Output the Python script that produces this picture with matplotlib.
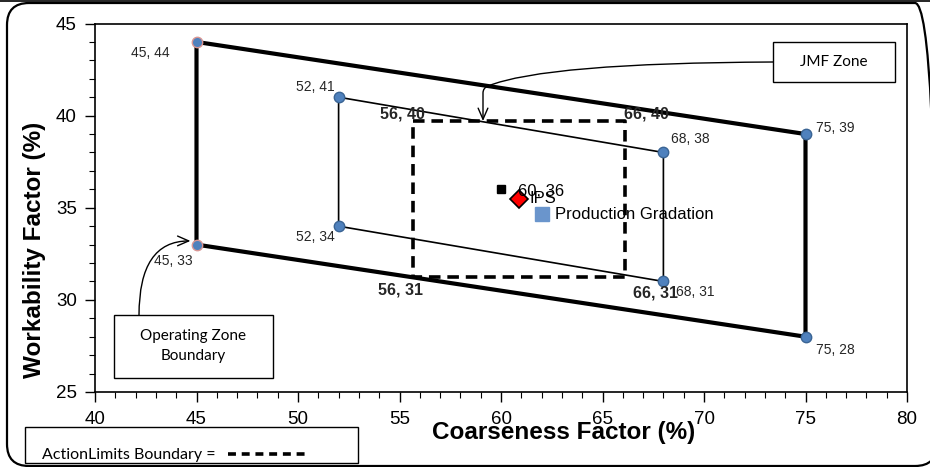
import matplotlib
matplotlib.use("Agg")
import matplotlib.pyplot as plt
from matplotlib.patches import FancyBboxPatch, Rectangle, FancyArrowPatch
from matplotlib.lines import Line2D
from matplotlib.path import Path
from matplotlib.transforms import IdentityTransform

# operating zone boundary (thick)
op_x = [45, 75, 75, 45, 45]
op_y = [44, 39, 28, 33, 44]
op_labels = ["45, 44", "75, 39", "75, 28", "45, 33"]
# inner zone (thin)
in_x = [52, 68, 68, 52, 52]
in_y = [41, 38, 31, 34, 41]
in_labels = ["52, 41", "68, 38", "68, 31", "52, 34"]
# action limits (dashed), as drawn
act_x = [55.65, 66.1, 66.1, 55.65, 55.65]
act_y = [39.7, 39.7, 31.26, 31.26, 39.7]
act_labels = ["56, 40", "66, 40", "66, 31", "56, 31"]
# single points
jmf_pt = (60, 36)
ips_pt = (60.9, 35.45)
prod_pt = (62.0, 34.65)

blue = "#4f81bd"
blue_edge = "#3a6494"
lab_col = "#262626"

fig = plt.figure(figsize=(9.3, 4.67), dpi=100)
ax = fig.add_axes([95/930, 75/467, 812/930, 368.5/467])

ax.plot(op_x, op_y, color="black", lw=3.0, zorder=2)
ax.plot(in_x, in_y, color="black", lw=1.2, zorder=2)
ax.plot(act_x, act_y, color="black", lw=2.6, dashes=(3.2, 1.9), zorder=2)

ax.plot(op_x[1:3], op_y[1:3], "o", ms=7.5, mfc=blue, mec=blue_edge, mew=1, ls="none", zorder=4)
ax.plot([op_x[0], op_x[3]], [op_y[0], op_y[3]], "o", ms=7.5, mfc=blue, mec="#d99694", mew=1, ls="none", zorder=4)
ax.plot(in_x[:4], in_y[:4], "o", ms=7.5, mfc=blue, mec=blue_edge, mew=1, ls="none", zorder=4)

ax.plot(*jmf_pt, "s", ms=5.5, color="black", zorder=5)
ax.plot(*ips_pt, "D", ms=9, mfc="red", mec="black", mew=1.2, zorder=5)
ax.plot(*prod_pt, "s", ms=10, mfc="#6a95cc", mec="#6a95cc", zorder=5)

def lab(txt, xy, dx, dy, ha="left", size=9.5, weight="normal", color=lab_col):
    # dx, dy in pixels
    ax.annotate(txt, xy=xy, xytext=(dx * 0.72, dy * 0.72), textcoords="offset points",
                ha=ha, va="center", fontsize=size, fontweight=weight, color=color,
                family="Liberation Sans", zorder=6)

# outer labels
lab(op_labels[0], (op_x[0], op_y[0]), -27, -11, ha="right", size=10)
lab(op_labels[1], (op_x[1], op_y[1]), 10, 6, size=10)
lab(op_labels[2], (op_x[2], op_y[2]), 10, -13, size=10)
lab(op_labels[3], (op_x[3], op_y[3]), -4, -16, ha="right", size=10)
# inner labels
lab(in_labels[0], (in_x[0], in_y[0]), -4, 10, ha="right", size=10)
lab(in_labels[1], (in_x[1], in_y[1]), 8, 13, size=10)
lab(in_labels[2], (in_x[2], in_y[2]), 13, -11, size=10)
lab(in_labels[3], (in_x[3], in_y[3]), -4, -11, ha="right", size=10)
# action limit labels
lab(act_labels[0], (act_x[0], act_y[0]), -10, 7, ha="center", size=11.5, weight="bold")
lab(act_labels[1], (act_x[1], act_y[1]), 22, 7, ha="center", size=11.5, weight="bold")
lab(act_labels[2], (act_x[2], act_y[2]), 31, -16, ha="center", size=11.5, weight="bold")
lab(act_labels[3], (act_x[3], act_y[3]), -12, -13, ha="center", size=11.5, weight="bold")
# point labels
lab("60, 36", jmf_pt, 17, -2, size=12, color="black")
lab("IPS", ips_pt, 10, 1, size=12, color="black")
lab("Production Gradation", prod_pt, 13, 0, size=12, color="black")

ax.set_xlim(40, 80)
ax.set_ylim(25, 45)
ax.set_xticks(range(40, 81, 5))
ax.set_yticks(range(25, 46, 5))
ax.set_xticks(range(40, 81), minor=True)
ax.set_yticks(range(25, 46), minor=True)
ax.tick_params(which="major", direction="out", length=7, width=1, labelsize=13.5)
ax.tick_params(which="minor", direction="out", length=4, width=0.8)
ax.tick_params(axis="x", which="major", pad=7)
ax.tick_params(axis="y", which="major", pad=6)
for lbl in ax.get_xticklabels() + ax.get_yticklabels():
    lbl.set_family("Liberation Sans")
for sp in ax.spines.values():
    sp.set_linewidth(1.2)

fig.text(564/930, 1 - 433/467, "Coarseness Factor (%)", ha="center", va="center",
         fontsize=17.5, fontweight="bold", family="Liberation Sans")
fig.text(34/930, 1 - 250/467, "Workability Factor (%)", ha="center", va="center",
         rotation=90, fontsize=17.5, fontweight="bold", family="Liberation Sans")

H = 467
px = IdentityTransform()

# outer rounded border
fig.patches.append(FancyBboxPatch((7, 1), 930, H - 4, boxstyle="round,pad=0,rounding_size=22",
                                  transform=px, fill=False, lw=1.6, ec="black"))
fig.lines.append(Line2D([0, 930], [H - 0.5, H - 0.5], transform=px, color="black", lw=1.2))

arrow_style = "->,head_length=0.8,head_width=0.35"

# JMF Zone callout
fig.patches.append(Rectangle((773, H - 82), 122, 40, transform=px, fill=True, fc="white",
                             ec="black", lw=1, zorder=3))
fig.text(834/930, 1 - 62/H, "JMF Zone", ha="center", va="center", fontsize=11, family="Lato")
jmf_path = Path([(773, H - 62), (545, H - 63), (488, H - 86), (483, H - 88), (483, H - 93), (483, H - 121)],
                [Path.MOVETO, Path.CURVE3, Path.CURVE3, Path.CURVE3, Path.CURVE3, Path.LINETO])
fig.patches.append(FancyArrowPatch(path=jmf_path, arrowstyle=arrow_style, mutation_scale=10,
                                   lw=1, color="black", transform=px))

# Operating Zone callout
fig.patches.append(Rectangle((114, H - 378), 159, 63, transform=px, fill=True, fc="white",
                             ec="black", lw=1, zorder=3))
fig.text(193/930, 1 - 346/H, "Operating Zone\nBoundary", ha="center", va="center", fontsize=11,
         family="Lato", linespacing=1.5)
ax.annotate("", xy=(44.7, 33.2), xycoords="data", xytext=(139, H - 315), textcoords="figure pixels",
            arrowprops=dict(arrowstyle=arrow_style, lw=1, color="black",
                            connectionstyle="angle3,angleA=90,angleB=0", shrinkA=0, shrinkB=0),
            annotation_clip=False)

# Action limits legend box
fig.patches.append(Rectangle((25, H - 463), 333, 36, transform=px, fill=True, fc="white",
                             ec="black", lw=1, zorder=3))
fig.text(42/930, 1 - 455/H, "ActionLimits Boundary = ", ha="left", va="center", fontsize=11.5,
         family="Lato", zorder=5)
fig.lines.append(Line2D([228, 306], [H - 454, H - 454], transform=px, color="black", lw=2.6,
                        dashes=(2.2, 1.6), zorder=5))

fig.savefig("out.png", dpi=100)
